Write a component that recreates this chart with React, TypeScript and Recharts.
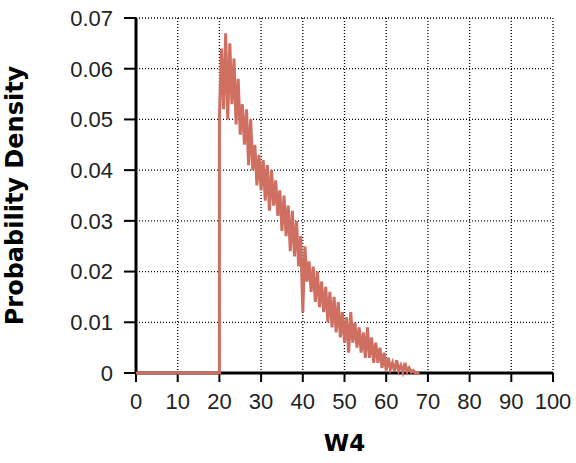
import React from "react";
import { LineChart, Line, XAxis, YAxis, CartesianGrid, Label } from "recharts";

const xValues: number[] = [
  0, 20, 20, 20.5, 21, 21.5, 22, 22.5, 23, 23.5, 24, 24.5, 25, 25.5, 26, 26.5,
  27, 27.5, 28, 28.5, 29, 29.5, 30, 30.5, 31, 31.5, 32, 32.5, 33, 33.5, 34, 34.5,
  35, 35.5, 36, 36.5, 37, 37.5, 38, 38.5, 39, 39.5, 40, 40.5, 41, 41.5, 42, 42.5,
  43, 43.5, 44, 44.5, 45, 45.5, 46, 46.5, 47, 47.5, 48, 48.5, 49, 49.5, 50, 50.5,
  51, 51.5, 52, 52.5, 53, 53.5, 54, 54.5, 55, 55.5, 56, 56.5, 57, 57.5, 58, 58.5,
  59, 59.5, 60, 60.5, 61, 61.5, 62, 62.5, 63, 63.5, 64, 64.5, 65, 65.5, 66, 66.5,
  67, 68,
];

const densityValues: number[] = [
  0, 0, 0.05, 0.064, 0.052, 0.067, 0.05, 0.065, 0.053, 0.062, 0.049, 0.058, 0.047, 0.053, 0.045, 0.052,
  0.041, 0.05, 0.04, 0.045, 0.037, 0.043, 0.036, 0.042, 0.034, 0.041, 0.032, 0.04, 0.033, 0.038, 0.031, 0.036,
  0.028, 0.035, 0.027, 0.033, 0.024, 0.032, 0.023, 0.03, 0.021, 0.027, 0.012, 0.025, 0.018, 0.022, 0.016, 0.021,
  0.014, 0.02, 0.013, 0.018, 0.012, 0.017, 0.01, 0.016, 0.009, 0.015, 0.008, 0.014, 0.007, 0.012, 0.006, 0.011,
  0.004, 0.012, 0.006, 0.01, 0.005, 0.009, 0.004, 0.008, 0.003, 0.009, 0.003, 0.007, 0.002, 0.006, 0.002, 0.005,
  0.001, 0.004, 0.0005, 0.003, 0.0008, 0.002, 0.0003, 0.0025, 0.0005, 0.0015, 0.0002, 0.002, 0.0003, 0.001, 0.0002, 0.0005,
  0, 0,
];

const xTicks: number[] = [0, 10, 20, 30, 40, 50, 60, 70, 80, 90, 100];
const yTicks: number[] = [0, 0.01, 0.02, 0.03, 0.04, 0.05, 0.06, 0.07];

const data = xValues.map((x, i) => ({ x, y: densityValues[i] }));

const tickFont = { fontFamily: "'Liberation Sans', Arial, sans-serif", fontSize: 22, fill: "#222" };
const titleFont = "'DejaVu Sans', Verdana, sans-serif";

export default function App() {
  return (
    <div style={{ position: "absolute", left: 0, top: 0, background: "#fff" }}>
      <LineChart
        width={576}
        height={463}
        data={data}
        margin={{ top: 18, right: 23, left: 0, bottom: 0 }}
      >
        <CartesianGrid
          stroke="#000"
          strokeWidth={1.3}
          strokeDasharray="1 2"
          horizontalValues={yTicks}
          verticalValues={xTicks}
        />
        <XAxis
          dataKey="x"
          type="number"
          domain={[0, 100]}
          ticks={xTicks}
          interval={0}
          height={90}
          tick={tickFont}
          tickSize={9}
          tickMargin={11}
          axisLine={{ stroke: "#000", strokeWidth: 3 }}
          tickLine={{ stroke: "#000", strokeWidth: 2 }}
        >
          <Label
            value="W4"
            position="insideBottom"
            offset={12}
            style={{ fontFamily: titleFont, fontWeight: "bold", fontSize: 23, fill: "#000" }}
          />
        </XAxis>
        <YAxis
          type="number"
          domain={[0, 0.07]}
          ticks={yTicks}
          interval={0}
          width={136}
          tick={tickFont}
          tickSize={12}
          tickMargin={11}
          axisLine={{ stroke: "#000", strokeWidth: 3 }}
          tickLine={{ stroke: "#000", strokeWidth: 2 }}
        >
          <Label
            value="Probability Density"
            angle={-90}
            position="insideLeft"
            offset={14}
            style={{ fontFamily: titleFont, fontWeight: "bold", fontSize: 24, fill: "#000", textAnchor: "middle" }}
          />
        </YAxis>
        <Line
          type="linear"
          dataKey="y"
          stroke="#CF6F61"
          strokeWidth={3}
          dot={false}
          isAnimationActive={false}
          zIndex={1000}
        />
      </LineChart>
    </div>
  );
}
